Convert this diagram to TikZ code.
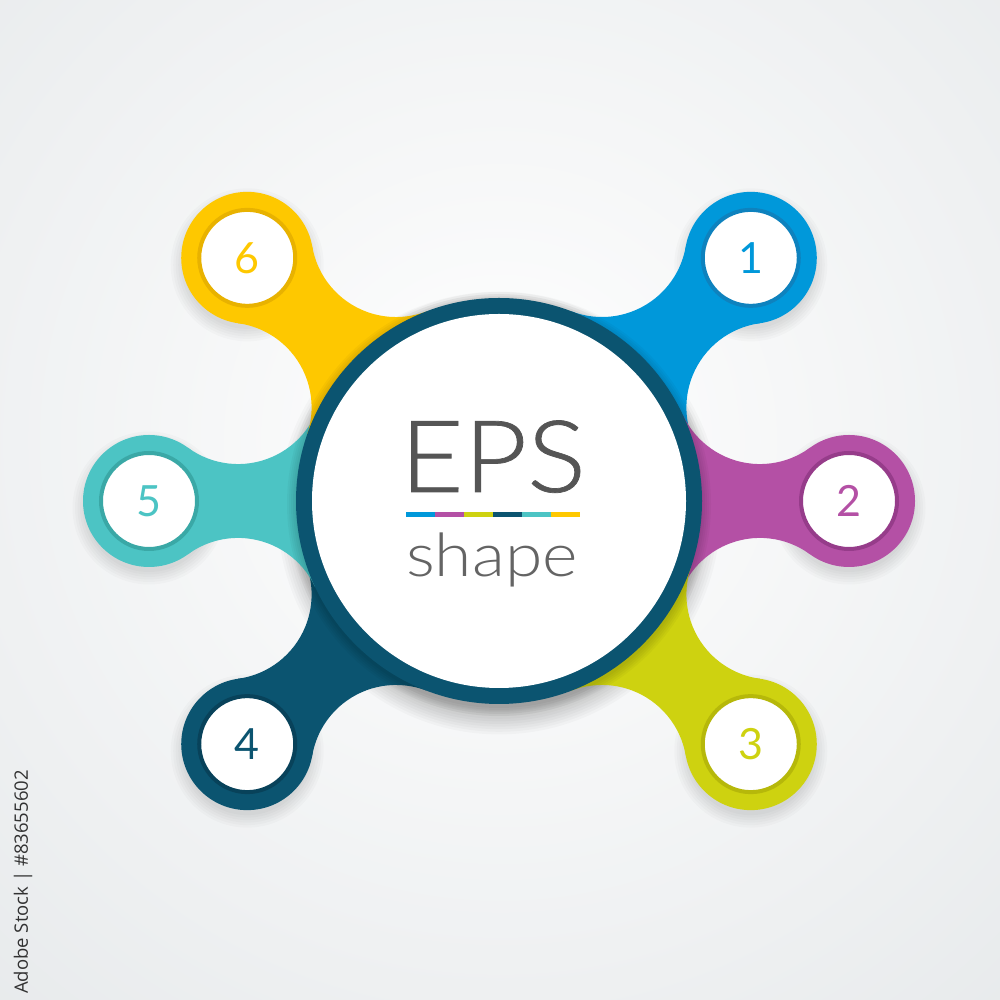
\documentclass[tikz,border=0pt]{standalone}
\usepackage{fontspec}
\usepackage{graphicx}
\usetikzlibrary{calc}
\IfFontExistsTF{Lato Light}{\newfontfamily\lightfont{Lato Light}\newfontfamily\epsfont[FakeBold=0.7]{Lato Light}}{%
  \newfontfamily\lightfont{Lato}\newfontfamily\epsfont{Lato}}
\newfontfamily\numfont{Lato}
\newfontfamily\sidefont{Open Sans}
\definecolor{bggray}{RGB}{212,217,220}
\definecolor{cblue}{RGB}{0,152,218}
\definecolor{cblueD}{RGB}{14,130,190}
\definecolor{cpurple}{RGB}{180,80,165}
\definecolor{cpurpleD}{RGB}{150,60,138}
\definecolor{clime}{RGB}{206,210,16}
\definecolor{climeD}{RGB}{182,184,10}
\definecolor{cteal}{RGB}{11,84,112}
\definecolor{ctealD}{RGB}{8,66,90}
\definecolor{cturq}{RGB}{76,196,196}
\definecolor{cturqD}{RGB}{58,168,166}
\definecolor{cyellow}{RGB}{254,200,0}
\definecolor{cyellowD}{RGB}{232,178,0}
\definecolor{textgray}{RGB}{85,85,85}
\definecolor{textgrayB}{RGB}{100,100,100}
\definecolor{sidegray}{RGB}{50,50,50}
\newcommand\neckshape[2]{%
  \fill[#2, shift={(c)}, rotate=#1]
    (183.91,85.94) arc[start angle=-154.95, end angle=-53.85, radius=85]
    -- (311.06,-53.29) arc[start angle=53.85, end angle=154.95, radius=85]
    -- cycle;}
\tikzset{
  satbox/.style={circle, minimum size=132, inner sep=0pt, draw=none},
  innerbox/.style={circle, minimum size=96, inner sep=0pt, line width=4pt, fill=white,
     font=\numfont\fontsize{43}{43}\selectfont},
}
\begin{document}
\begin{tikzpicture}[x=1pt,y=1pt]
\useasboundingbox (0,0) rectangle (1000,1000);
\begin{scope}
  \clip (0,0) rectangle (1000,1000);
  \shade[inner color=white, outer color=bggray] (500,560) circle (1400);
\end{scope}
\coordinate (c) at (499,499);
% shadows
\foreach \k in {0,...,9}
  \fill[black, opacity=0.025] ([yshift=-12pt]c) circle ({198+2.6*\k});
\foreach \t in {44,0,-44,-136,180,136}
  \foreach \k in {0,...,5}
    \fill[black, opacity=0.02] ($(c)+(\t:350)+(0,-7)$) circle ({64+2.5*\k});
% necks
\neckshape{44}{cblue}
\neckshape{0}{cpurple}
\neckshape{-44}{clime}
\neckshape{-136}{cteal}
\neckshape{180}{cturq}
\neckshape{136}{cyellow}
% satellites
\node[satbox, fill=cblue]   (s1) at ($(c)+(44:350)$) {};
\node[satbox, fill=cpurple] (s2) at ($(c)+(0:350)$) {};
\node[satbox, fill=clime]   (s3) at ($(c)+(-44:350)$) {};
\node[satbox, fill=cteal]   (s4) at ($(c)+(-136:350)$) {};
\node[satbox, fill=cturq]   (s5) at ($(c)+(180:350)$) {};
\node[satbox, fill=cyellow] (s6) at ($(c)+(136:350)$) {};
\node[innerbox, draw=cblueD, text=cblue]     (n1) at (s1) {1};
\node[innerbox, draw=cpurpleD, text=cpurple] (n2) at (s2) {2};
\node[innerbox, draw=climeD, text=clime]     (n3) at (s3) {3};
\node[innerbox, draw=ctealD, text=cteal]     (n4) at (s4) {4};
\node[innerbox, draw=cturqD, text=cturq]     (n5) at (s5) {5};
\node[innerbox, draw=cyellowD, text=cyellow] (n6) at (s6) {6};
% ring shadow on necks
\foreach \k in {0,...,4}
  \fill[black, opacity=0.03] ([yshift=-3pt]c) circle ({204+2*\k});
% central circle
\node[circle, fill=cteal, minimum size=406, inner sep=0pt] (cc) at (c) {};
\node[circle, fill=white, minimum size=374, inner sep=0pt] (cw) at (c) {};
% texts
\node[anchor=base, inner sep=0pt, text=textgray, font=\epsfont\fontsize{100}{100}\selectfont] (eps) at (493,508) {\scalebox{1.1}[1]{EPS}};
\fill[cblue]   (406,483) rectangle (435,488);
\fill[cpurple] (435,483) rectangle (464,488);
\fill[clime]   (464,483) rectangle (493,488);
\fill[cteal]   (493,483) rectangle (522,488);
\fill[cturq]   (522,483) rectangle (551,488);
\fill[cyellow] (551,483) rectangle (580,488);
\node[anchor=base, inner sep=0pt, text=textgrayB, font=\lightfont\fontsize{60}{60}\selectfont] (shp) at (492,423) {\scalebox{1.13}[1]{shape}};
\node[rotate=90, inner sep=0pt, text=sidegray, font=\sidefont\fontsize{18.5}{18.5}\selectfont] (wm) at (23,118) {Adobe Stock | \#83655602};
\end{tikzpicture}
\end{document}
